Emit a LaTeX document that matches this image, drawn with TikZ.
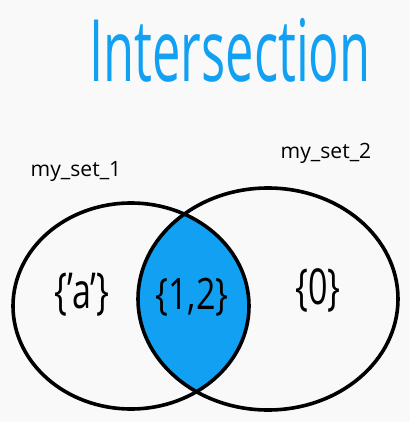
\documentclass[tikz,border=0pt]{standalone}
\usepackage{fontspec}
\setmainfont{Open Sans}
\definecolor{venblue}{RGB}{18,160,242}
\definecolor{paper}{RGB}{249,249,249}

\begin{document}
\begin{tikzpicture}[
      x=0.025cm, y=-0.025cm,
      setline/.style = {draw=black, line width=0.09cm},
      title/.style   = {font=\fontsize{36}{36}\selectfont, text=venblue, inner sep=0pt},
      setname/.style = {font=\fontsize{15}{15}\selectfont, inner sep=0pt},
      members/.style = {font=\fontsize{22}{22}\selectfont, inner sep=0pt}
    ]

      % ===================== Page =====================
      \fill[paper] (0,0) rectangle (410,422);
      \useasboundingbox (0,0) rectangle (410,422);

      % ===================== Shared part =====================
      \begin{scope}
        \clip (131,306) ellipse [x radius=118, y radius=103];
        \fill[venblue] (268,299) ellipse [x radius=130, y radius=111];
      \end{scope}

      % ===================== Sets =====================
      \draw[setline] (131,306) ellipse [x radius=118, y radius=103];
      \draw[setline] (268,299) ellipse [x radius=130, y radius=111];

      % ===================== Texts =====================
      \node[title] (head) at (230,50) {\scalebox{1}[1.7]{Intersection}};
      \node[setname] (name1) at (76,172) {my\_set\_1};
      \node[setname] (name2) at (326,153) {my\_set\_2};

      \node[members] (only1) at (82,295)  {\scalebox{1.1}[1.6]{\{'a'\}}};
      \node[members] (both)  at (192,297) {\scalebox{1.1}[1.4]{\{1,2\}}};
      \node[members] (only2) at (318,290) {\scalebox{1.1}[1.6]{\{0\}}};

    \end{tikzpicture}
\end{document}
